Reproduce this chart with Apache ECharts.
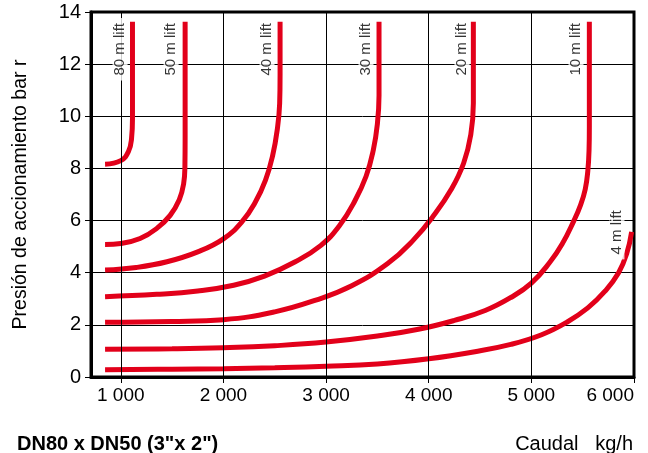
<!DOCTYPE html>
<html>
<head>
<meta charset="utf-8">
<script src="https://cdn.jsdelivr.net/npm/echarts@6/dist/echarts.min.js"></script>
<style>
  html, body { margin: 0; padding: 0; background: #fff; }
  #chart { width: 648px; height: 453px; }
</style>
</head>
<body>
<div id="chart"></div>
<script>
// x ticks / vertical grid (kg/h)
const xTicks = [1000, 2000, 3000, 4000, 5000, 6000]
const xGrid = [1000, 2000, 3000, 4000, 5000]

// lift curves: [caudal kg/h, presion bar]
const lift80 = [[847, 8.16], [1000, 8.3], [1075, 8.65], [1105, 9.15], [1114, 9.9], [1114, 11.1], [1114, 12.4], [1114, 13.63]]
const lift50 = [[847, 5.08], [1000, 5.12], [1188, 5.31], [1351, 5.7], [1481, 6.2], [1570, 6.8], [1612, 7.4], [1625, 8.1], [1627, 9.2], [1627, 10.6], [1627, 12.1], [1627, 13.63]]
const lift40 = [[847, 4.1], [1150, 4.2], [1450, 4.42], [1750, 4.8], [2000, 5.3], [2180, 5.95], [2310, 6.7], [2410, 7.55], [2480, 8.5], [2525, 9.5], [2548, 10.5], [2552, 11.6], [2552, 13.63]]
const lift30 = [[847, 3.08], [1350, 3.17], [1750, 3.3], [2100, 3.52], [2400, 3.87], [2700, 4.42], [2950, 5.05], [3130, 5.8], [3280, 6.75], [3390, 7.7], [3460, 8.7], [3500, 9.7], [3516, 10.8], [3516, 12.2], [3516, 13.63]]
const lift20 = [[847, 2.1], [1500, 2.13], [2000, 2.2], [2500, 2.5], [2900, 2.95], [3250, 3.5], [3600, 4.35], [3850, 5.25], [4050, 6.2], [4220, 7.2], [4340, 8.2], [4410, 9.3], [4435, 10.5], [4435, 12], [4435, 13.63]]
const lift10 = [[847, 1.06], [1500, 1.08], [2000, 1.12], [2500, 1.2], [3000, 1.34], [3500, 1.57], [3900, 1.83], [4250, 2.17], [4550, 2.55], [4800, 3.05], [5000, 3.6], [5180, 4.4], [5300, 5.1], [5415, 6.0], [5480, 6.6], [5525, 7.2], [5550, 7.9], [5562, 8.7], [5565, 9.6], [5565, 10.8], [5565, 12.2], [5565, 13.63]]
const lift4 = [[847, 0.28], [1500, 0.3], [2000, 0.32], [2500, 0.355], [3000, 0.41], [3500, 0.5], [4000, 0.7], [4450, 0.97], [4800, 1.25], [5100, 1.62], [5346, 2.1], [5550, 2.65], [5720, 3.3], [5850, 4.0], [5930, 4.75], [5977, 5.57]]

const curves = [lift80, lift50, lift40, lift30, lift20, lift10, lift4]
const liftNames = ['80 m lift', '50 m lift', '40 m lift', '30 m lift', '20 m lift', '10 m lift', '4 m lift']
const liftLabelAt = [[993, 12.57], [1490, 12.57], [2425, 12.57], [3389, 12.57], [4324, 12.57], [5435, 12.57], [5834, 5.55]]

const font = '"Liberation Sans", Arial, sans-serif'
const red = '#e2001a'

const chart = echarts.init(document.getElementById('chart'))

const lineSeries = curves.map((pts, i) => ({
  name: liftNames[i],
  type: 'line',
  data: pts,
  smooth: 0.45,
  showSymbol: false,
  symbol: 'none',
  lineStyle: { color: red, width: 5, cap: 'butt' },
  z: 3
}))

chart.setOption({
  animation: false,
  grid: {
    left: 91, right: 14, top: 12, bottom: 76,
    containLabel: false,
    outerBoundsMode: 'none',
    show: true, borderColor: '#000', borderWidth: 3
  },
  title: [
    {
      text: 'DN80 x DN50 (3"x 2")',
      left: 12, top: 429,
      textStyle: { fontFamily: font, fontWeight: 'bold', fontSize: 20, color: '#000' }
    },
    {
      text: 'Caudal   kg/h',
      right: 10, top: 429,
      textStyle: { fontFamily: font, fontWeight: 'normal', fontSize: 20, color: '#000' }
    }
  ],
  xAxis: {
    type: 'value',
    min: 710, max: 6000,
    axisLine: { show: true, lineStyle: { color: '#000', width: 3 } },
    axisTick: { show: true, customValues: xTicks, length: 6, lineStyle: { color: '#000', width: 1 } },
    axisLabel: {
      customValues: xTicks,
      formatter: v => String(v).replace(/\B(?=(\d{3})+(?!\d))/g, ' '),
      alignMaxLabel: 'right',
      fontFamily: font, fontSize: 19, color: '#000', margin: 9
    },
    splitLine: { show: false }
  },
  yAxis: {
    type: 'value',
    min: 0, max: 14, interval: 2,
    name: 'Presión de accionamiento bar r',
    nameLocation: 'middle',
    nameRotate: 90,
    nameGap: 60,
    nameTextStyle: { fontFamily: font, fontSize: 19.5, color: '#000' },
    axisLine: { show: true, lineStyle: { color: '#000', width: 3 } },
    axisTick: { show: true, length: 6, lineStyle: { color: '#000', width: 1 } },
    axisLabel: { fontFamily: font, fontSize: 20, color: '#000', margin: 10 },
    splitLine: { show: true, lineStyle: { color: '#000', width: 1 } }
  },
  series: [
    {
      type: 'line',
      data: [],
      silent: true,
      markLine: {
        silent: true,
        symbol: 'none',
        label: { show: false },
        lineStyle: { color: '#000', width: 1, type: 'solid' },
        data: xGrid.map(v => ({ xAxis: v }))
      },
      z: 1
    },
    ...lineSeries,
    {
      type: 'scatter',
      symbolSize: 0,
      silent: true,
      data: liftLabelAt.map((p, i) => ({ value: p, name: liftNames[i] })),
      label: {
        show: true,
        position: 'inside',
        rotate: 90,
        formatter: p => p.name,
        fontFamily: font,
        fontSize: 15,
        color: '#000',
        backgroundColor: '#fff',
        padding: [0, 5, 0, 5]
      },
      z: 5
    }
  ]
})
</script>
</body>
</html>
